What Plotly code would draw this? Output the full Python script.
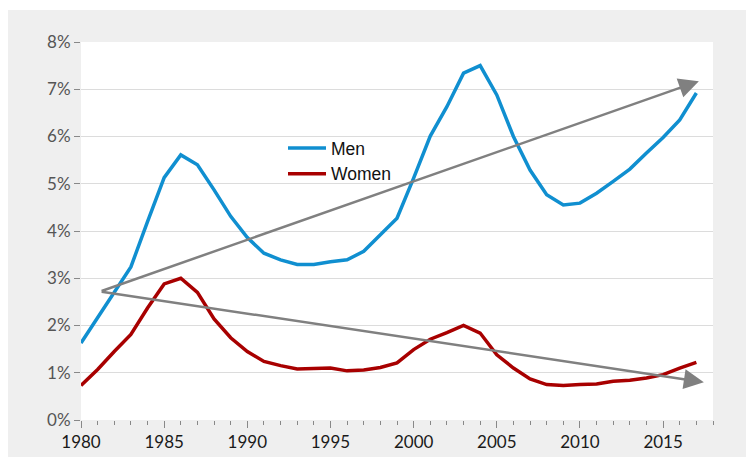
import plotly.graph_objects as go

years = list(range(1980, 2018))
men = [1.63, 2.17, 2.72, 3.24, 4.20, 5.13, 5.61, 5.40, 4.87, 4.31, 3.86, 3.53, 3.39, 3.29, 3.29, 3.35,
       3.39, 3.57, 3.92, 4.27, 5.12, 6.01, 6.63, 7.34, 7.50, 6.88, 6.00, 5.29, 4.77, 4.55, 4.59, 4.80,
       5.05, 5.31, 5.65, 5.98, 6.35, 6.92]
women = [0.73, 1.07, 1.45, 1.81, 2.37, 2.88, 3.00, 2.70, 2.14, 1.74, 1.45, 1.24, 1.15, 1.08, 1.09, 1.10,
         1.04, 1.06, 1.11, 1.21, 1.49, 1.71, 1.85, 2.00, 1.84, 1.38, 1.10, 0.87, 0.75, 0.73, 0.75, 0.76,
         0.82, 0.84, 0.89, 0.96, 1.10, 1.22]

# trend arrows: tail (year, value) -> head (year, value)
arrow_tail = [(1981.15, 2.72), (1981.15, 2.72)]
arrow_head = [(2017.15, 7.17), (2017.45, 0.80)]

y_ticks = [0, 1, 2, 3, 4, 5, 6, 7, 8]
y_labels = [f"{v}%" for v in y_ticks]
x_ticks = [1980, 1985, 1990, 1995, 2000, 2005, 2010, 2015]

W, H = 746, 457
ml, mr, mt, mb = 81, 33, 42, 37

fig = go.Figure()
fig.add_trace(go.Scatter(x=years, y=men, mode="lines", name="Men",
                         line=dict(color="#108fd0", width=3.5)))
fig.add_trace(go.Scatter(x=years, y=women, mode="lines", name="Women",
                         line=dict(color="#a80000", width=3.5)))

for (tx, ty), (hx, hy) in zip(arrow_tail, arrow_head):
    fig.add_annotation(x=hx, y=hy, ax=tx, ay=ty, xref="x", yref="y", axref="x", ayref="y",
                       text="", showarrow=True, arrowhead=2, arrowsize=1.6, arrowwidth=2.5,
                       arrowcolor="#808080")

pw = W - ml - mr
ph = H - mt - mb
# white strips at top and left outside the grey panel
fig.add_shape(type="rect", xref="paper", yref="paper", layer="below",
              x0=-ml / pw, x1=1 + mr / pw, y0=1 + (mt - 10) / ph, y1=1 + mt / ph,
              fillcolor="white", line=dict(width=0))
fig.add_shape(type="rect", xref="paper", yref="paper", layer="below",
              x0=-ml / pw, x1=(8 - ml) / pw, y0=-mb / ph, y1=1 + mt / ph,
              fillcolor="white", line=dict(width=0))

tick_font = dict(family="Lato, Noto Sans, sans-serif", size=17)

fig.update_layout(
    width=W, height=H,
    margin=dict(l=ml, r=mr, t=mt, b=mb, autoexpand=False),
    paper_bgcolor="#efefef",
    plot_bgcolor="white",
    showlegend=True,
    legend=dict(x=(283 - ml) / pw, y=1 - (130 - mt) / ph, xanchor="left", yanchor="top",
                bgcolor="rgba(0,0,0,0)", font=dict(family="Liberation Sans, Arial", size=17.5, color="#111"),
                tracegroupgap=0, itemwidth=38),
    xaxis=dict(range=[1980, 2018], tickmode="array", tickvals=x_ticks, automargin=False,
               ticks="outside", ticklen=7, tickwidth=1, tickcolor="#888",
               minor=dict(dtick=1, tick0=1980, ticks="outside", ticklen=4, tickcolor="#888", showgrid=False),
               showgrid=False, zeroline=False, showline=False,
               tickfont=dict(color="#1a1a1a", **tick_font)),
    yaxis=dict(range=[0, 8], tickmode="array", tickvals=y_ticks, ticktext=y_labels, automargin=False,
               ticks="outside", ticklen=6, tickwidth=1, tickcolor="#888",
               showgrid=True, gridcolor="#dcdcdc", gridwidth=1, zeroline=False, showline=False,
               tickfont=dict(color="#555", **tick_font)),
)

fig.write_html("out.html")
